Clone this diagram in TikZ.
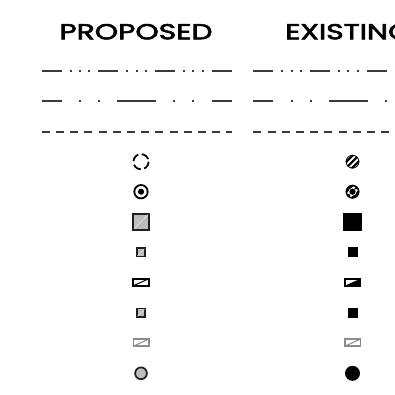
\documentclass[tikz,border=0pt]{standalone}
\usepackage{fontspec}
\usepackage{graphicx}
\newfontfamily\titlefont[FakeBold=2.6]{Poppins}
\definecolor{ink}{HTML}{3A3A3A}
\definecolor{boxgray}{HTML}{BDBDBD}
\definecolor{pale}{HTML}{8C8C8C}
\newsavebox\ttlbox
\AtBeginDocument{\sbox\ttlbox{\titlefont PROPOSED}}
\begin{document}
\begin{tikzpicture}[x=1pt,y=-1pt,
  legline/.style={draw=ink, line width=2pt},
  dashdotdot/.style={legline, dash pattern=on 20pt off 8pt on 2pt off 7.3pt on 2pt off 7.3pt on 2pt off 8pt},
  dashdotlong/.style={legline, dash pattern=on 20pt off 17.3pt on 2pt off 17pt on 2pt off 17.3pt on 38.7pt off 17.3pt on 2pt off 17pt on 2pt off 17.3pt},
  shortdash/.style={legline, dash pattern=on 8pt off 6.2pt},
  greybox/.style={fill=boxgray, draw=black!88, line width=1.7pt},
  sheen/.style={draw=white!60!boxgray, line width=0.45pt},
  halfbox/.style={draw=black, line width=1.6pt},
  palebox/.style={draw=pale, line width=1.5pt},
  hatch/.style={line width=2.1pt, black},
  title/.style={anchor=base west, inner sep=0pt}]
\useasboundingbox (0,0) rectangle (395,394);
\clip (0,0) rectangle (395,394);

% headings, stretched to the heading width
\pgfmathsetmacro\ttlxs{153/\wd\ttlbox}
\pgfmathsetmacro\ttlys{15.3/\ht\ttlbox}
\node[title] (proposed) at (59.3,39.3) {\scalebox{\ttlxs}[\ttlys]{\titlefont PROPOSED}};
\node[title] (existing) at (285,39.3) {\scalebox{\ttlxs}[\ttlys]{\titlefont EXISTING}};

% line types
\coordinate (p1a) at (41.7,70.7);  \coordinate (p1b) at (231.7,70.7);
\coordinate (p2a) at (41.7,100.7); \coordinate (p2b) at (231.7,100.7);
\coordinate (p3a) at (41.7,131.7); \coordinate (p3b) at (232,131.7);
\coordinate (e1a) at (253.3,70.7);  \coordinate (e1b) at (400,70.7);
\coordinate (e2a) at (253.3,100.7); \coordinate (e2b) at (400,100.7);
\coordinate (e3a) at (253.3,131.7); \coordinate (e3b) at (400,131.7);
\draw[dashdotdot]  (p1a) -- (p1b);
\draw[dashdotlong] (p2a) -- (p2b);
\draw[shortdash]   (p3a) -- (p3b);
\draw[dashdotdot]  (e1a) -- (e1b);
\draw[dashdotlong] (e2a) -- (e2b);
\draw[shortdash]   (e3a) -- (e3b);

% ---------- proposed symbols ----------
\begin{scope}[shift={(141,0)}]
  % dashed circle
  \draw[line width=1.8pt, dash pattern=on 8.5pt off 3.6pt] (0,161.7) circle[radius=7.6];
  % ring with centre dot
  \draw[line width=1.8pt] (0,191.7) circle[radius=6.7];
  \fill (0,191.7) circle[radius=3.1];
  % large square
  \draw[greybox] (-8.05,213.65) rectangle (8.05,229.75);
  \draw[sheen] (-7.2,228.9) -- (7.2,214.5);
  % small square
  \draw[greybox] (-4.2,248.1) rectangle (4.2,256.5);
  \draw[sheen] (-3.4,255.7) -- (3.4,248.9);
  % split rectangle
  \draw[halfbox] (-7.75,278.8) rectangle (7.75,285.8);
  \draw[line width=1pt] (-7.75,285.8) -- (7.75,278.8);
  % small square
  \draw[greybox] (-4.2,308.5) rectangle (4.2,316.9);
  \draw[sheen] (-3.4,316.1) -- (3.4,309.3);
  % pale split rectangle
  \draw[palebox] (-7.75,339.2) rectangle (7.75,346.2);
  \draw[pale, line width=1pt] (-7.75,346.2) -- (7.75,339.2);
  % grey circle
  \draw[greybox] (0,373.3) circle[radius=5.9];
\end{scope}

% ---------- existing symbols ----------
\begin{scope}[shift={(352.5,0)}]
  % hatched circle
  \begin{scope}
    \clip (0,161.7) circle[radius=6.8];
    \foreach \o in {-12,-6,0,6,12}
      \draw[hatch] (\o-10,171.7) -- (\o+10,151.7);
  \end{scope}
  \draw[line width=0.8pt] (0,161.7) circle[radius=6.4];
  % hatched ring with centre dot
  \begin{scope}
    \clip (0,191.7) circle[radius=6.8];
    \foreach \o in {-12,-6,0,6,12}
      \draw[hatch] (\o-10,201.7) -- (\o+10,181.7);
  \end{scope}
  \draw[line width=1.5pt] (0,191.7) circle[radius=6.2];
  \fill[white] (0,191.7) circle[radius=4];
  \fill (0,191.7) circle[radius=3.1];
  % large square
  \fill (-9.15,212.6) rectangle (9.15,230.9);
  % small square
  \fill (-5,247.2) rectangle (5,257.2);
  % half filled rectangle
  \fill (-7.75,285.8) -- (7.75,278.8) -- (7.75,285.8) -- cycle;
  \draw[halfbox] (-7.75,278.8) rectangle (7.75,285.8);
  % small square
  \fill (-5,308.3) rectangle (5,318.3);
  % pale split rectangle
  \draw[palebox] (-7.75,339.2) rectangle (7.75,346.2);
  \draw[pale, line width=1pt] (-7.75,346.2) -- (7.75,339.2);
  % black circle
  \fill (0,373.3) circle[radius=7.5];
\end{scope}
\end{tikzpicture}
\end{document}
